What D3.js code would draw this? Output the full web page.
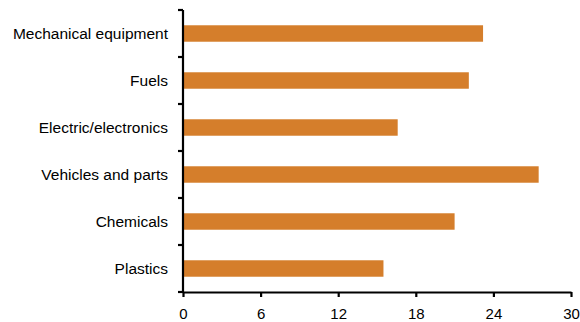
<!DOCTYPE html>
<html>
<head>
<meta charset="utf-8">
<script src="https://cdn.jsdelivr.net/npm/d3@7"></script>
<style>
  html, body { margin: 0; padding: 0; background: #fff; }
  svg { display: block; }
  .axis text { font-family: "Liberation Sans", Arial, sans-serif; fill: #000; }
  .cat text { font-size: 15.5px; }
  .val text { font-size: 15px; }
</style>
</head>
<body>
<svg id="chart" width="580" height="322"></svg>
<script>
// Product categories, top to bottom
const categories = [
  "Mechanical equipment",
  "Fuels",
  "Electric/electronics",
  "Vehicles and parts",
  "Chemicals",
  "Plastics"
];
// Bar values
const values = [23.2, 22.1, 16.6, 27.5, 21.0, 15.5];
// Value-axis ticks
const xTicks = [0, 6, 12, 18, 24, 30];

const svg = d3.select("#chart");
const margin = { left: 183, right: 9, top: 10, bottom: 30 };
const width = 580, height = 322;

const x = d3.scaleLinear()
  .domain([0, 30])
  .range([margin.left, width - margin.right]);

const y = d3.scaleBand()
  .domain(categories)
  .range([margin.top, height - margin.bottom])
  .paddingInner(0.65)
  .paddingOuter(0.325);

// Bars
svg.append("g")
  .selectAll("rect")
  .data(categories)
  .join("rect")
  .attr("x", x(0))
  .attr("y", d => y(d))
  .attr("width", (d, i) => x(values[i]) - x(0))
  .attr("height", y.bandwidth())
  .attr("fill", "#D57E2B");

// Category axis: ticks sit on band boundaries
const yAxis = svg.append("g")
  .attr("class", "axis cat")
  .attr("transform", `translate(${x(0)},0)`);

const step = y.step();
const boundaries = d3.range(categories.length + 1).map(i => margin.top + i * step);

yAxis.append("line")
  .attr("x1", 0).attr("x2", 0)
  .attr("y1", margin.top).attr("y2", height - margin.bottom)
  .attr("stroke", "#000").attr("stroke-width", 2.2);

yAxis.selectAll("line.tick")
  .data(boundaries)
  .join("line")
  .attr("class", "tick")
  .attr("x1", -5).attr("x2", 0)
  .attr("y1", d => d).attr("y2", d => d)
  .attr("stroke", "#000").attr("stroke-width", 2.2);

yAxis.selectAll("text")
  .data(categories)
  .join("text")
  .attr("x", -15)
  .attr("y", d => y(d) + y.bandwidth() / 2)
  .attr("dy", "0.35em")
  .attr("text-anchor", "end")
  .text(d => d);

// Value axis
const xAxis = svg.append("g")
  .attr("class", "axis val")
  .attr("transform", `translate(0,${height - margin.bottom})`)
  .call(d3.axisBottom(x).tickValues(xTicks).tickSize(5).tickSizeOuter(0).tickPadding(11));

xAxis.attr("font-size", null).attr("font-family", null);
xAxis.select(".domain").attr("stroke", "#000").attr("stroke-width", 2.2);
xAxis.selectAll(".tick line").attr("stroke", "#000").attr("stroke-width", 2.2);
</script>
</body>
</html>
